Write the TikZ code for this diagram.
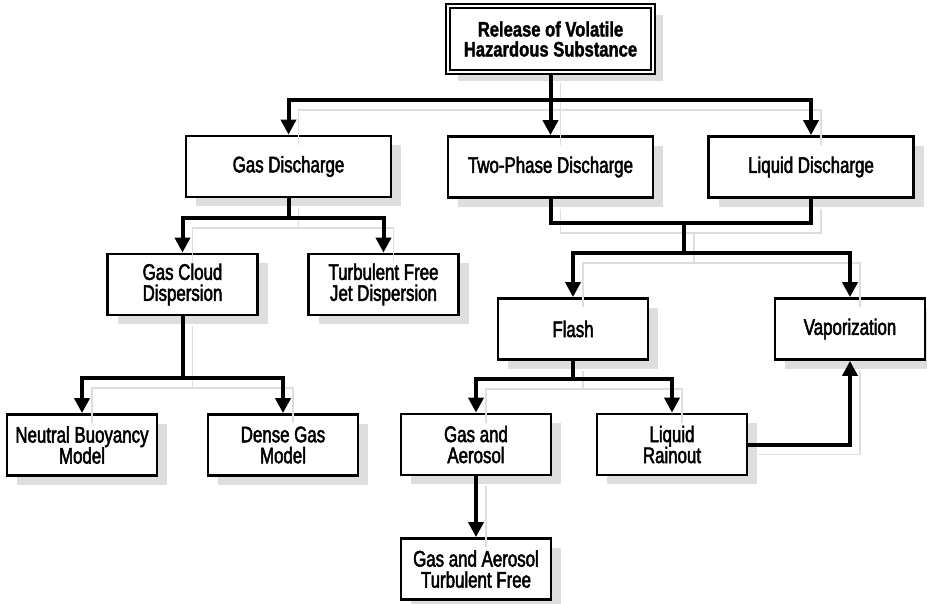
\documentclass[tikz,border=0pt]{standalone}
\usepackage{fontspec}
\usetikzlibrary{arrows.meta,shadows}
\newfontfamily\boxfont{Liberation Sans}[FakeStretch=0.75,FakeBold=2.2]
\newfontfamily\titlefont{Liberation Sans}[FakeStretch=0.79,FakeBold=1.6]

\tikzset{
  box/.style={draw, line width=2.8pt, fill=white, align=center, inner sep=0pt,
    minimum height=61pt, minimum width=150pt,
    font=\boxfont\fontsize{22.5}{21}\selectfont,
    drop shadow={shadow xshift=10pt, shadow yshift=-9pt, fill=black!13, opacity=1}},
  widebox/.style={box, minimum width=205pt},
  titlebox/.style={widebox, minimum height=66pt, double, line width=2pt,
    double distance=1.6pt, font=\titlefont\bfseries\fontsize{21}{20}\selectfont},
  conn/.style={line width=4pt, line join=miter,
    preaction={draw=black!13, line width=1.5pt, -,
      transform canvas={shift={(10pt,-10pt)}}}},
  arr/.style={conn, -{Triangle[width=15pt,length=15pt]}}
}

\begin{document}
\begin{tikzpicture}[x=1pt,y=-1pt]
\useasboundingbox[fill=white] (0,0) rectangle (927,603);

% boxes
\node[titlebox] (top)  at (550.5,39)  {Release of Volatile\\Hazardous Substance};
\node[widebox]  (gas)  at (288.5,166.5) {Gas Discharge};
\node[widebox]  (two)  at (550.5,167) {Two-Phase Discharge};
\node[widebox]  (liq)  at (811,167)   {Liquid Discharge};
\node[box]      (cloud) at (182.5,284.5) {Gas Cloud\\Dispersion};
\node[box]      (jet)  at (383.5,284.5) {Turbulent Free\\Jet Dispersion};
\node[box]      (neutral) at (82,445) {Neutral Buoyancy\\Model};
\node[box]      (dense) at (283,445)  {Dense Gas\\Model};
\node[box]      (flash) at (573,329)  {Flash};
\node[box]      (vap)  at (850,329)   {Vaporization};
\node[box]      (gasaer) at (476,444.5) {Gas and\\Aerosol};
\node[box]      (rain) at (672,444.5) {Liquid\\Rainout};
\node[box]      (turb) at (476,569)   {Gas and Aerosol\\Turbulent Free};

% branch points
\coordinate (j1) at (550.5,100);
\coordinate (j2) at (288.5,218);
\coordinate (j3) at (182.5,378);
\coordinate (j4) at (684,223);
\coordinate (j5) at (684,253);
\coordinate (j6) at (573,379);

% release -> discharge types
\draw[conn] (top.south) -- (j1);
\draw[arr] (j1) -| (gas.north);
\draw[arr] (j1) -- (two.north);
\draw[arr] (j1) -| (liq.north);

% gas discharge branch
\draw[conn] (gas.south) -- (j2);
\draw[arr] (j2) -| (cloud.north);
\draw[arr] (j2) -| (jet.north);
\draw[conn] (cloud.south) -- (j3);
\draw[arr] (j3) -| (neutral.north);
\draw[arr] (j3) -| (dense.north);

% two-phase and liquid discharge merge
\draw[conn] (two.south) -- (two.south |- j4) -- (liq.south |- j4) -- (liq.south);
\draw[conn] (j4) -- (j5);
\draw[arr] (j5) -| (flash.north);
\draw[arr] (j5) -| (vap.north);

% flash branch
\draw[conn] (flash.south) -- (j6);
\draw[arr] (j6) -| (gasaer.north);
\draw[arr] (j6) -| (rain.north);
\draw[arr] (gasaer.south) -- (turb.north);
\draw[arr] (rain.east) -| (vap.south);
\end{tikzpicture}
\end{document}
